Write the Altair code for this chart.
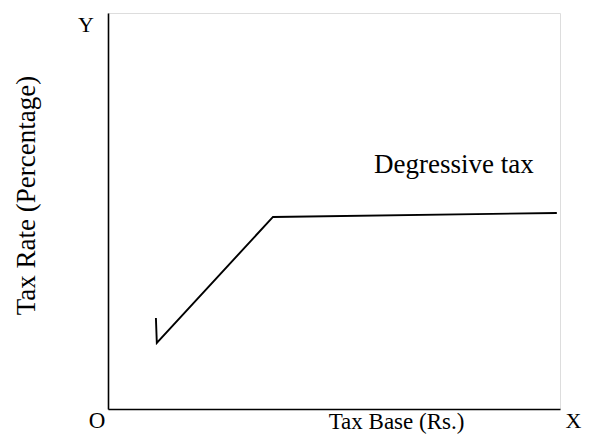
import altair as alt
import pandas as pd

# Degressive tax curve (tax base -> tax rate), in axis units (0-100)
curve_x = [10.6, 10.8, 36.5, 99.3]
curve_y = [23.0, 16.7, 48.5, 49.5]

# Annotation labels and their positions in axis units
label_text = ["Y", "O", "X", "Degressive tax"]
label_x = [-4.9, -2.4, 103.0, 76.5]
label_y = [97.0, -4.8, -4.8, 59.6]
label_size = [22, 23, 22, 27]
label_base = ["middle", "alphabetic", "alphabetic", "alphabetic"]

FONT = "Liberation Serif"

curve = pd.DataFrame({"x": curve_x, "y": curve_y, "order": list(range(len(curve_x)))})
labels = pd.DataFrame({"x": label_x, "y": label_y, "t": label_text,
                       "s": label_size, "b": label_base})

xscale = alt.Scale(domain=[0, 100], nice=False, zero=False)
yscale = alt.Scale(domain=[0, 100], nice=False, zero=False)

line = alt.Chart(curve).mark_line(color="black", strokeWidth=1.9, clip=False).encode(
    x=alt.X("x:Q", scale=xscale, axis=alt.Axis(
        title="Tax Base (Rs.)", ticks=False, labels=False, grid=False,
        domainColor="black", domainWidth=1.6,
        titleFont=FONT, titleFontSize=23, titleFontWeight="normal", titleColor="black",
        titleX=288, titleY=19, titleBaseline="alphabetic", titleAnchor="middle")),
    y=alt.Y("y:Q", scale=yscale, axis=alt.Axis(
        title="Tax Rate (Percentage)", ticks=False, labels=False, grid=False,
        domainColor="black", domainWidth=1.6,
        titleFont=FONT, titleFontSize=27, titleFontWeight="normal", titleColor="black",
        titleX=-82, titleY=182, titleAngle=270, titleBaseline="middle", titleAlign="center")),
    order="order:O",
)

texts = []
for b in ["middle", "alphabetic"]:
    for s in sorted(set(label_size)):
        sub = labels[(labels["b"] == b) & (labels["s"] == s)]
        if len(sub) == 0:
            continue
        texts.append(
            alt.Chart(sub).mark_text(font=FONT, fontSize=s, color="black",
                                     baseline=b, align="center", clip=False).encode(
                x=alt.X("x:Q", scale=xscale),
                y=alt.Y("y:Q", scale=yscale),
                text="t:N",
            )
        )

chart = alt.layer(line, *texts).properties(
    width=452, height=396,
    autosize=alt.AutoSizeParams(type="none"),
    padding={"left": 100, "top": 5, "right": 25, "bottom": 25},
).configure_view(stroke=None).configure(background="white")

chart.save("out.html", embed_options={"renderer": "svg", "actions": False})
